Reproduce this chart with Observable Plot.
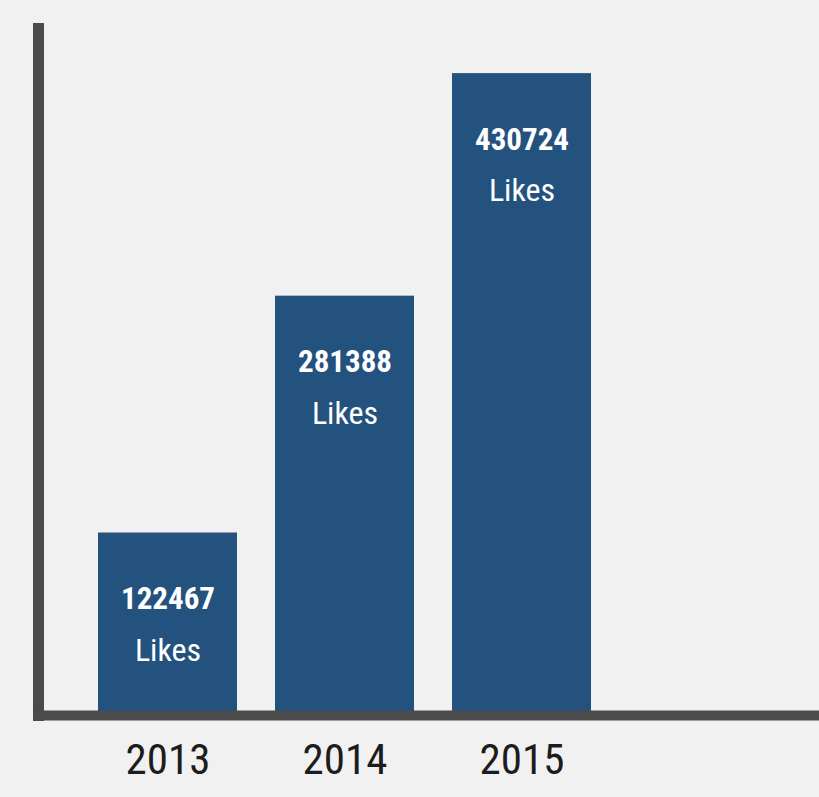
<!DOCTYPE html>
<html>
<head>
<meta charset="utf-8">
<script src="https://cdn.jsdelivr.net/npm/d3@7"></script>
<script src="https://cdn.jsdelivr.net/npm/@observablehq/plot@0.6"></script>
<style>
  html, body { margin: 0; padding: 0; background: #f1f1f1; }
  #chart svg { display: block; }
  #chart svg text { font-stretch: condensed; }
</style>
</head>
<body>
<div id="chart"></div>
<script>
const years = ["2013", "2014", "2015"];
const likes = [122467, 281388, 430724];
const unitLabel = "Likes";

const data = years.map((year, i) => ({ year, likes: likes[i] }));

const barColor = "#24527f";
const axisColor = "#4b4b4b";

const chart = Plot.plot({
  width: 819,
  height: 797,
  marginLeft: 38,
  marginRight: 0,
  marginTop: 28,
  marginBottom: 82,
  style: { background: "#f1f1f1", fontFamily: "'Roboto Condensed', Roboto, 'Noto Sans', sans-serif", overflow: "visible" },
  x: { domain: years, range: [98, 591], paddingInner: 0.215, paddingOuter: 0 },
  y: { domain: [0, 461000], axis: null },
  marks: [
    Plot.barY(data, { x: "year", y: "likes", fill: barColor }),
    Plot.text(data, {
      x: "year", y: "likes", text: d => String(d.likes),
      lineAnchor: "top", dy: 54, fill: "white", fontSize: 31, fontWeight: "bold"
    }),
    Plot.text(data, {
      x: "year", y: "likes", text: () => unitLabel,
      lineAnchor: "top", dy: 105, fill: "white", fontSize: 32, fontWeight: "normal"
    }),
    Plot.frame({ anchor: "left", stroke: axisColor, strokeWidth: 11, strokeLinecap: "square" }),
    Plot.ruleY([0], { stroke: axisColor, strokeWidth: 10, strokeLinecap: "square" }),
    Plot.axisX({ tickSize: 0, tickPadding: 28, fontSize: 43, label: null, fill: "#1c1c1c", letterSpacing: "-1px" })
  ]
});

document.getElementById("chart").appendChild(chart);
</script>
</body>
</html>
